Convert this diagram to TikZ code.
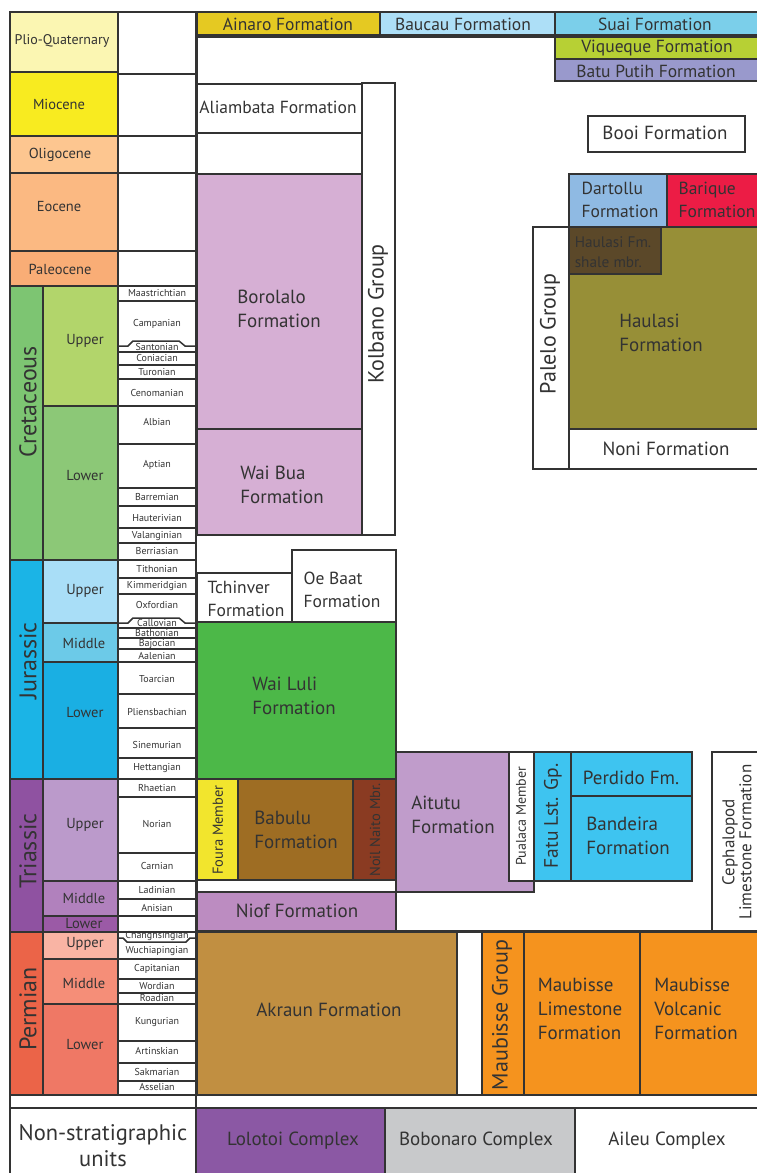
\documentclass[tikz,border=0pt]{standalone}
\usepackage{fontspec}
\setmainfont{PT Sans}
\definecolor{edge}{HTML}{333333}
\definecolor{ink}{HTML}{333333}
\definecolor{pq}{HTML}{FBF6B2}
\definecolor{mio}{HTML}{F8EB20}
\definecolor{oli}{HTML}{FDC690}
\definecolor{eoc}{HTML}{FBB982}
\definecolor{pal}{HTML}{F9AD76}
\definecolor{cre}{HTML}{7DC572}
\definecolor{creU}{HTML}{B2D56B}
\definecolor{creL}{HTML}{8CC877}
\definecolor{jur}{HTML}{1BB4E6}
\definecolor{jurU}{HTML}{A9DEF7}
\definecolor{jurM}{HTML}{6CCAE8}
\definecolor{jurL}{HTML}{1AAFE3}
\definecolor{tri}{HTML}{8F52A1}
\definecolor{triU}{HTML}{BB9ACB}
\definecolor{triM}{HTML}{B181BD}
\definecolor{triL}{HTML}{9B5AA6}
\definecolor{per}{HTML}{EB6448}
\definecolor{perU}{HTML}{F9B4A4}
\definecolor{perM}{HTML}{F58E78}
\definecolor{perL}{HTML}{EF7865}
\definecolor{ainaro}{HTML}{E5C922}
\definecolor{baucau}{HTML}{ADDFF7}
\definecolor{suai}{HTML}{7BCFEA}
\definecolor{viqueque}{HTML}{B7D034}
\definecolor{batuputih}{HTML}{9999CC}
\definecolor{kolbano}{HTML}{D6AFD4}
\definecolor{wailuli}{HTML}{4CB848}
\definecolor{foura}{HTML}{F2E52D}
\definecolor{babulu}{HTML}{9E6D23}
\definecolor{noil}{HTML}{8A3B22}
\definecolor{niof}{HTML}{BC8CC1}
\definecolor{aitutu}{HTML}{C09CCB}
\definecolor{fatu}{HTML}{3EC4F0}
\definecolor{akraun}{HTML}{C18F41}
\definecolor{maubisse}{HTML}{F5931E}
\definecolor{lolotoi}{HTML}{8B58A4}
\definecolor{bobonaro}{HTML}{C8C9CB}
\definecolor{dartollu}{HTML}{8FBAE3}
\definecolor{barique}{HTML}{EC1C45}
\definecolor{shale}{HTML}{5B4829}
\definecolor{haulasi}{HTML}{978F37}
\begin{document}
\begin{tikzpicture}[x=1pt,y=-1pt,
  unit/.style={draw=edge,line width=1.5pt},
  fmlabel/.style={text=ink,inner sep=0pt,align=left,font=\fontsize{19}{24}\selectfont},
  smlabel/.style={fmlabel,font=\fontsize{17.5}{22.5}\selectfont},
  grouplabel/.style={fmlabel,rotate=90,font=\fontsize{22}{24}\selectfont},
  eplabel/.style={text=ink,inner sep=0pt,font=\fontsize{14.5}{16}\selectfont},
  perlabel/.style={text=ink,inner sep=0pt,rotate=90,font=\fontsize{24}{26}\selectfont},
  stagelabel/.style={text=ink,inner sep=0pt,font=\fontsize{10}{10}\selectfont},
  mbrlabel/.style={text=ink,inner sep=0pt,rotate=90,font=\fontsize{14.5}{15}\selectfont}]
\useasboundingbox (0,0) rectangle (757,1173);

% time scale
\filldraw[unit,fill=pq] (10,12) rectangle (118,72);
\filldraw[unit,fill=mio] (10,72) rectangle (118,136);
\filldraw[unit,fill=oli] (10,136) rectangle (118,173);
\filldraw[unit,fill=eoc] (10,173) rectangle (118,251);
\filldraw[unit,fill=pal] (10,251) rectangle (118,286);
\filldraw[unit,fill=cre] (10,286) rectangle (43,560);
\filldraw[unit,fill=creU] (43,286) rectangle (118,406);
\filldraw[unit,fill=creL] (43,406) rectangle (118,560);
\filldraw[unit,fill=jur] (10,560) rectangle (43,779);
\filldraw[unit,fill=jurU] (43,560) rectangle (118,623);
\filldraw[unit,fill=jurM] (43,623) rectangle (118,662);
\filldraw[unit,fill=jurL] (43,662) rectangle (118,779);
\filldraw[unit,fill=tri] (10,779) rectangle (43,932);
\filldraw[unit,fill=triU] (43,779) rectangle (118,881);
\filldraw[unit,fill=triM] (43,881) rectangle (118,916);
\filldraw[unit,fill=triL] (43,916) rectangle (118,932);
\filldraw[unit,fill=per] (10,932) rectangle (43,1095);
\filldraw[unit,fill=perU] (43,932) rectangle (118,959);
\filldraw[unit,fill=perM] (43,959) rectangle (118,1004);
\filldraw[unit,fill=perL] (43,1004) rectangle (118,1095);

\node[eplabel,font=\fontsize{14}{16}\selectfont] (plioq) at (62,41) {Plio-Quaternary};
\node[eplabel] (miocene) at (59,104) {Miocene};
\node[eplabel] (oligocene) at (60,155) {Oligocene};
\node[eplabel] (eocene) at (59,207) {Eocene};
\node[eplabel] (paleocene) at (60,269) {Paleocene};
\node[perlabel] (cretaceous) at (28,402) {Cretaceous};
\node[eplabel] (creup) at (85,341) {Upper};
\node[eplabel] (crelow) at (85,476) {Lower};
\node[perlabel] (jurassic) at (28,661) {Jurassic};
\node[eplabel] (jurup) at (85,591) {Upper};
\node[eplabel] (jurmid) at (84,643) {Middle};
\node[eplabel] (jurlow) at (85,713) {Lower};
\node[perlabel] (triassic) at (28,851) {Triassic};
\node[eplabel] (triup) at (85,825) {Upper};
\node[eplabel] (trimid) at (84,898) {Middle};
\node[eplabel] (trilow) at (84,923) {Lower};
\node[perlabel] (permian) at (28,1009) {Permian};
\node[eplabel] (perup) at (85,944) {Upper};
\node[eplabel] (permid) at (84,983) {Middle};
\node[eplabel] (perlow) at (85,1044) {Lower};

% stages
\draw[unit] (118,12) rectangle (196,1095);
\foreach \y in {74,136,173,251,286,301,352,365,379,406,444,488,506,528,543,560,578,594,628,638,649,662,694,728,758,779,797,853,881,899,916,932,959,979,993,1004,1041,1063,1081}
  \draw[unit] (118,\y) -- (196,\y);
\draw[unit] (118,346) -- (128,346) -- (133,341) -- (179,341) -- (185,346) -- (196,346);
\draw[unit] (118,623) -- (128,623) -- (133,618) -- (179,618) -- (185,623) -- (196,623);
\draw[unit] (118,938) -- (123,938) -- (127,942) -- (186,942) -- (190,938) -- (196,938);
\foreach \s/\y in {Maastrichtian/293,Campanian/324,Santonian/347,Coniacian/358,Turonian/372,Cenomanian/393,Albian/422,Aptian/465,Barremian/497,Hauterivian/518,Valanginian/536,Berriasian/551,Tithonian/569,Kimmeridgian/586,Oxfordian/605,Callovian/623,Bathonian/633,Bajocian/644,Aalenian/656,Toarcian/679,Pliensbachian/712,Sinemurian/745,Hettangian/768,Rhaetian/788,Norian/824,Carnian/866,Ladinian/890,Anisian/908,Changhsingian/936,Wuchiapingian/951,Capitanian/969,Wordian/986,Roadian/998,Kungurian/1022,Artinskian/1051,Sakmarian/1072,Asselian/1087}
  \node[stagelabel] (\s) at (157,\y) {\s};

% neogene units
\filldraw[unit,fill=ainaro] (197,12) rectangle (380,35);
\filldraw[unit,fill=baucau] (380,12) rectangle (555,35);
\filldraw[unit,fill=suai] (555,12) rectangle (765,35);
\filldraw[unit,fill=viqueque] (555,37) rectangle (765,59);
\filldraw[unit,fill=batuputih] (555,59) rectangle (765,81);
\draw[unit] (197,83) -- (197,37) -- (555,37);
\node[smlabel] (ainaro) at (288,24) {Ainaro Formation};
\node[smlabel] (baucau) at (463,24) {Baucau Formation};
\node[smlabel] (suai) at (655,24) {Suai Formation};
\node[smlabel] (viqueque) at (657,48) {Viqueque Formation};
\node[smlabel] (batuputih) at (656,71) {Batu Putih Formation};

% kolbano group
\filldraw[unit,fill=white] (197,84) rectangle (362,133);
\filldraw[unit,fill=white] (197,133) rectangle (362,174);
\filldraw[unit,fill=kolbano] (197,174) rectangle (362,429);
\filldraw[unit,fill=kolbano] (197,429) rectangle (362,535);
\filldraw[unit,fill=white] (362,83) rectangle (395,535);
\node[smlabel] (aliambata) at (278,107) {Aliambata Formation};
\node[fmlabel] (borolalo) at (279,309) {Borolalo\\Formation};
\node[fmlabel] (waibua) at (282,485) {Wai Bua\\Formation};
\node[grouplabel] (kolbano) at (378,314) {Kolbano Group};

% jurassic and triassic units
\filldraw[unit,fill=white] (197,573) rectangle (292,622);
\filldraw[unit,fill=white] (292,550) rectangle (396,622);
\filldraw[unit,fill=wailuli] (197,622) rectangle (396,779);
\filldraw[unit,fill=foura] (197,779) rectangle (238,880);
\filldraw[unit,fill=babulu] (238,779) rectangle (353,880);
\filldraw[unit,fill=noil] (353,779) rectangle (396,880);
\filldraw[unit,fill=white] (197,880) rectangle (396,892);
\filldraw[unit,fill=niof] (197,892) rectangle (396,931);
\node[smlabel] (tchinver) at (246,599) {Tchinver\\Formation};
\node[smlabel] (oebaat) at (342,590) {Oe Baat\\Formation};
\node[fmlabel] (wailuli) at (294,696) {Wai Luli\\Formation};
\node[mbrlabel] (foura) at (218,830) {Foura Member};
\node[fmlabel] (babulu) at (296,830) {Babulu\\Formation};
\node[mbrlabel] (noil) at (375,830) {Noil Naito Mbr.};
\node[fmlabel] (niof) at (297,911) {Niof Formation};

\draw[unit] (396,892) -- (396,931);
\filldraw[unit,fill=aitutu] (396,752) rectangle (534,892);
\filldraw[unit,fill=white] (509,752) rectangle (534,881);
\filldraw[unit,fill=fatu] (534,752) rectangle (571,881);
\filldraw[unit,fill=fatu] (571,752) rectangle (692,796);
\filldraw[unit,fill=fatu] (571,796) rectangle (692,881);
\filldraw[unit,fill=white] (712,752) rectangle (765,931);
\node[fmlabel] (aitutu) at (453,815) {Aitutu\\Formation};
\node[mbrlabel,font=\fontsize{14}{15}\selectfont] (pualaca) at (521,816) {Pualaca Member};
\node[grouplabel,font=\fontsize{19.5}{21}\selectfont] (fatu) at (553,816) {Fatu Lst. Gp.};
\node[fmlabel] (perdido) at (631,778) {Perdido Fm.};
\node[fmlabel] (bandeira) at (628,836) {Bandeira\\Formation};
\node[fmlabel,align=center,font=\fontsize{17}{17}\selectfont,rotate=90] (cephalopod) at (737,842) {Cephalopod\\Limestone Formation};

% permian units
\filldraw[unit,fill=akraun] (197,932) rectangle (457,1095);
\filldraw[unit,fill=white] (457,932) rectangle (482,1095);
\filldraw[unit,fill=maubisse] (482,932) rectangle (524,1095);
\filldraw[unit,fill=maubisse] (524,932) rectangle (640,1095);
\filldraw[unit,fill=maubisse] (640,932) rectangle (765,1095);
\draw[unit] (396,931) -- (765,931);
\node[fmlabel] (akraun) at (329,1010) {Akraun Formation};
\node[grouplabel] (maubissegp) at (502,1015) {Maubisse Group};
\node[fmlabel] (maubisselst) at (580,1009) {Maubisse\\Limestone\\Formation};
\node[fmlabel] (maubissevol) at (696,1009) {Maubisse\\Volcanic\\Formation};

% non-stratigraphic units
\draw[unit] (10,1095) rectangle (196,1108);
\draw[unit] (196,1095) rectangle (765,1108);
\draw[unit] (10,1108) rectangle (196,1180);
\filldraw[unit,fill=lolotoi] (196,1108) rectangle (385,1180);
\filldraw[unit,fill=bobonaro] (385,1108) rectangle (575,1180);
\draw[unit] (575,1108) rectangle (765,1180);
\draw[unit] (10,12) -- (10,1180);
\node[fmlabel,align=center,font=\fontsize{22.5}{26}\selectfont] (nonstrat) at (103,1146) {Non-stratigraphic\\units};
\node[fmlabel] (lolotoi) at (293,1141) {Lolotoi Complex};
\node[fmlabel] (bobonaro) at (476,1141) {Bobonaro Complex};
\node[fmlabel] (aileu) at (667,1141) {Aileu Complex};

% palelo group
\draw[unit] (588,116) rectangle (745,152);
\node[fmlabel] (booi) at (665,133) {Booi Formation};
\filldraw[unit,fill=dartollu] (569,174) rectangle (667,227);
\filldraw[unit,fill=barique] (667,174) rectangle (765,227);
\filldraw[unit,fill=white] (533,227) rectangle (569,469);
\filldraw[unit,fill=haulasi] (569,227) rectangle (765,429);
\filldraw[unit,fill=shale] (569,227) rectangle (661,274);
\filldraw[unit,fill=white] (569,429) rectangle (765,469);
\node[smlabel] (dartollu) at (620,200) {Dartollu\\Formation};
\node[smlabel] (barique) at (717,200) {Barique\\Formation};
\node[grouplabel] (palelo) at (550,334) {Palelo Group};
\node[fmlabel,font=\fontsize{15.3}{20}\selectfont] (shalembr) at (613,252) {Haulasi Fm.\\shale mbr.};
\node[fmlabel] (haulasi) at (661,333) {Haulasi\\Formation};
\node[fmlabel] (noni) at (666,449) {Noni Formation};
\end{tikzpicture}
\end{document}
